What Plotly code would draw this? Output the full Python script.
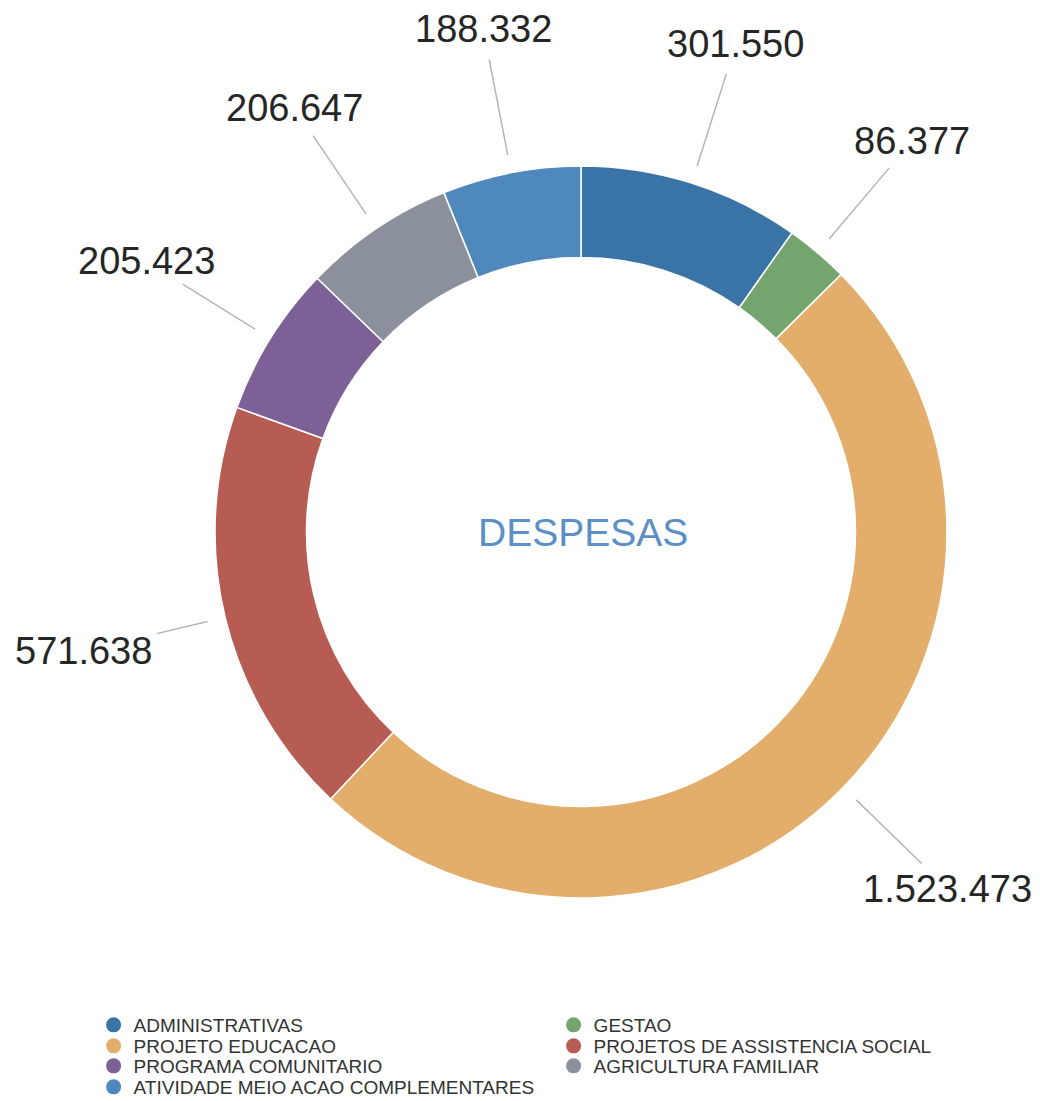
import math
import plotly.graph_objects as go

categories = [
    "ADMINISTRATIVAS",
    "GESTAO",
    "PROJETO EDUCACAO",
    "PROJETOS DE ASSISTENCIA SOCIAL",
    "PROGRAMA COMUNITARIO",
    "AGRICULTURA FAMILIAR",
    "ATIVIDADE MEIO ACAO COMPLEMENTARES",
]
values = [301550, 86377, 1523473, 571638, 205423, 206647, 188332]
value_labels = ["301.550", "86.377", "1.523.473", "571.638", "205.423", "206.647", "188.332"]
colors = ["#3a73a6", "#74a56f", "#e3ae6b", "#b75c52", "#7d6096", "#8a919d", "#4f88bc"]
center_title = "DESPESAS"

# layout geometry (pixels)
W, H = 1040, 1101
CX, CY, R = 581, 532, 366
LABEL_R = 512
LINE_R0 = 384
GAP = 17
FS = 38
FONT = "Liberation Sans, Arial, sans-serif"
LEGEND_ROWS_Y = [1025, 1046, 1066, 1087]

fig = go.Figure()
fig.add_trace(go.Pie(
    labels=categories,
    values=values,
    hole=0.75,
    sort=False,
    direction="clockwise",
    rotation=0,
    marker=dict(colors=colors, line=dict(color="white", width=1.5)),
    textinfo="none",
    showlegend=False,
    domain=dict(x=[(CX - R) / W, (CX + R) / W], y=[1 - (CY + R) / H, 1 - (CY - R) / H]),
))

# legend entries with round markers, two per row, one legend per row
for i, (name, col) in enumerate(zip(categories, colors)):
    row = i // 2
    lname = "legend" if row == 0 else f"legend{row + 1}"
    fig.add_trace(go.Scatter(
        x=[None], y=[None], mode="markers", name=name,
        marker=dict(symbol="circle", size=15, color=col),
        showlegend=True, legend=lname,
    ))

# outside labels + leader lines computed from the data
total = sum(values)
cum = 0.0
shapes = []
annotations = []
for v, lab in zip(values, value_labels):
    mid = (cum + v / 2) / total * 2 * math.pi
    cum += v
    ux, uy = math.sin(mid), -math.cos(mid)
    lx, ly = CX + LABEL_R * ux, CY + LABEL_R * uy
    half_w = sum(0.278 if c == "." else 0.556 for c in lab) * FS / 2
    half_h = 0.72 * FS / 2
    t = min(half_w / max(abs(ux), 1e-6), half_h / max(abs(uy), 1e-6))
    r1 = LABEL_R - t - GAP
    x0, y0 = CX + LINE_R0 * ux, CY + LINE_R0 * uy
    x1, y1 = CX + r1 * ux, CY + r1 * uy
    shapes.append(dict(
        type="line", xref="paper", yref="paper",
        x0=x0 / W, y0=1 - y0 / H, x1=x1 / W, y1=1 - y1 / H,
        line=dict(color="#b5b5b5", width=1.5),
    ))
    annotations.append(dict(
        text=lab, xref="paper", yref="paper", x=lx / W, y=1 - ly / H,
        xanchor="center", yanchor="middle", showarrow=False,
        font=dict(size=FS, color="#262626", family=FONT),
    ))

annotations.append(dict(
    text=center_title, xref="paper", yref="paper", x=(CX + 2) / W, y=1 - CY / H,
    xanchor="center", yanchor="middle", showarrow=False,
    font=dict(size=39, color="#5b8fc5", family=FONT),
))

legend_common = dict(
    orientation="h", x=0.09, xanchor="left", yanchor="middle",
    entrywidth=415, entrywidthmode="pixels",
    font=dict(size=19, color="#333333", family=FONT),
    itemsizing="trace", bgcolor="rgba(0,0,0,0)",
)
legend_layout = {}
for row, py in enumerate(LEGEND_ROWS_Y):
    key = "legend" if row == 0 else f"legend{row + 1}"
    legend_layout[key] = dict(legend_common, y=1 - py / H)

fig.update_layout(
    width=W, height=H,
    margin=dict(l=0, r=0, t=0, b=0, autoexpand=False),
    paper_bgcolor="white", plot_bgcolor="white",
    xaxis=dict(visible=False), yaxis=dict(visible=False),
    shapes=shapes, annotations=annotations,
    font=dict(family=FONT),
    **legend_layout,
)

fig.write_html("out.html", config={"displayModeBar": False},
               post_script="document.body.style.margin='0';")
